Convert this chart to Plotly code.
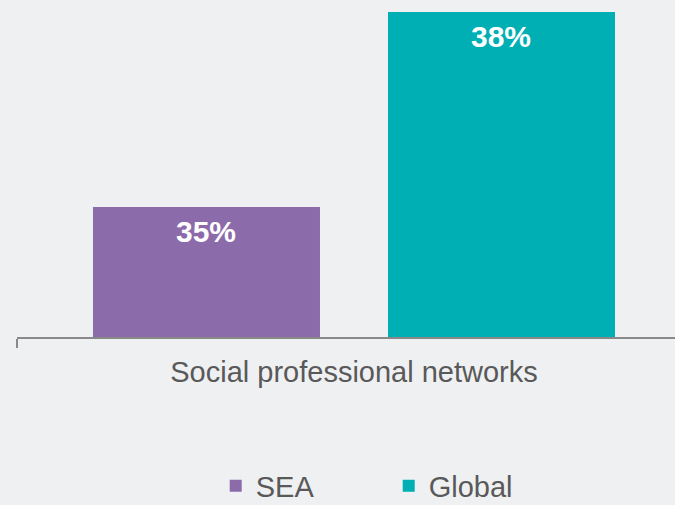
import plotly.graph_objects as go

# Share of respondents using social professional networks
category = ["Social professional networks"]
series_names = ["SEA", "Global"]
series_values = [[35], [38]]
series_colors = ["#8C6BAA", "#00AFB4"]

FONT = "Liberation Sans, Arial, sans-serif"
TEXT_GREY = "#595959"
BG = "#EFF0F2"

fig = go.Figure()
for name, vals, color in zip(series_names, series_values, series_colors):
    fig.add_trace(go.Bar(
        name=name,
        x=category,
        y=vals,
        marker=dict(color=color, line=dict(width=0)),
        hoverinfo="skip",
    ))

# value labels just inside the top of each bar
offsets = [-147.5, 147.5]
for vals, dx in zip(series_values, offsets):
    fig.add_annotation(
        x=category[0], y=vals[0], xref="x", yref="y",
        text=f"<b>{vals[0]}%</b>", showarrow=False,
        xshift=dx, yshift=-6, yanchor="top",
        font=dict(family=FONT, size=30, color="white"),
    )

fig.update_layout(
    width=675, height=505,
    margin=dict(l=17, r=0, t=0, b=168, pad=0, autoexpand=False),
    paper_bgcolor=BG, plot_bgcolor=BG,
    barmode="group", bargap=0.1246, bargroupgap=0.2305,
    showlegend=True,
    legend=dict(
        orientation="h", xanchor="left", x=0.302,
        y=-0.442, yanchor="middle", entrywidth=128,
        font=dict(family=FONT, size=29, color=TEXT_GREY),
        bgcolor="rgba(0,0,0,0)",
    ),
    xaxis=dict(
        range=[-0.5, 0.4763], showline=True, linecolor="#898989", linewidth=2,
        ticks="outside", tickson="boundaries", ticklen=9, tickwidth=2, tickcolor="#898989",
        ticklabelstandoff=8,
        tickfont=dict(family=FONT, size=29, color=TEXT_GREY), showgrid=False,
        fixedrange=True,
    ),
    yaxis=dict(range=[33, 38.185], visible=False, showgrid=False, zeroline=False),
    font=dict(family=FONT),
)

fig.write_html("out.html")
